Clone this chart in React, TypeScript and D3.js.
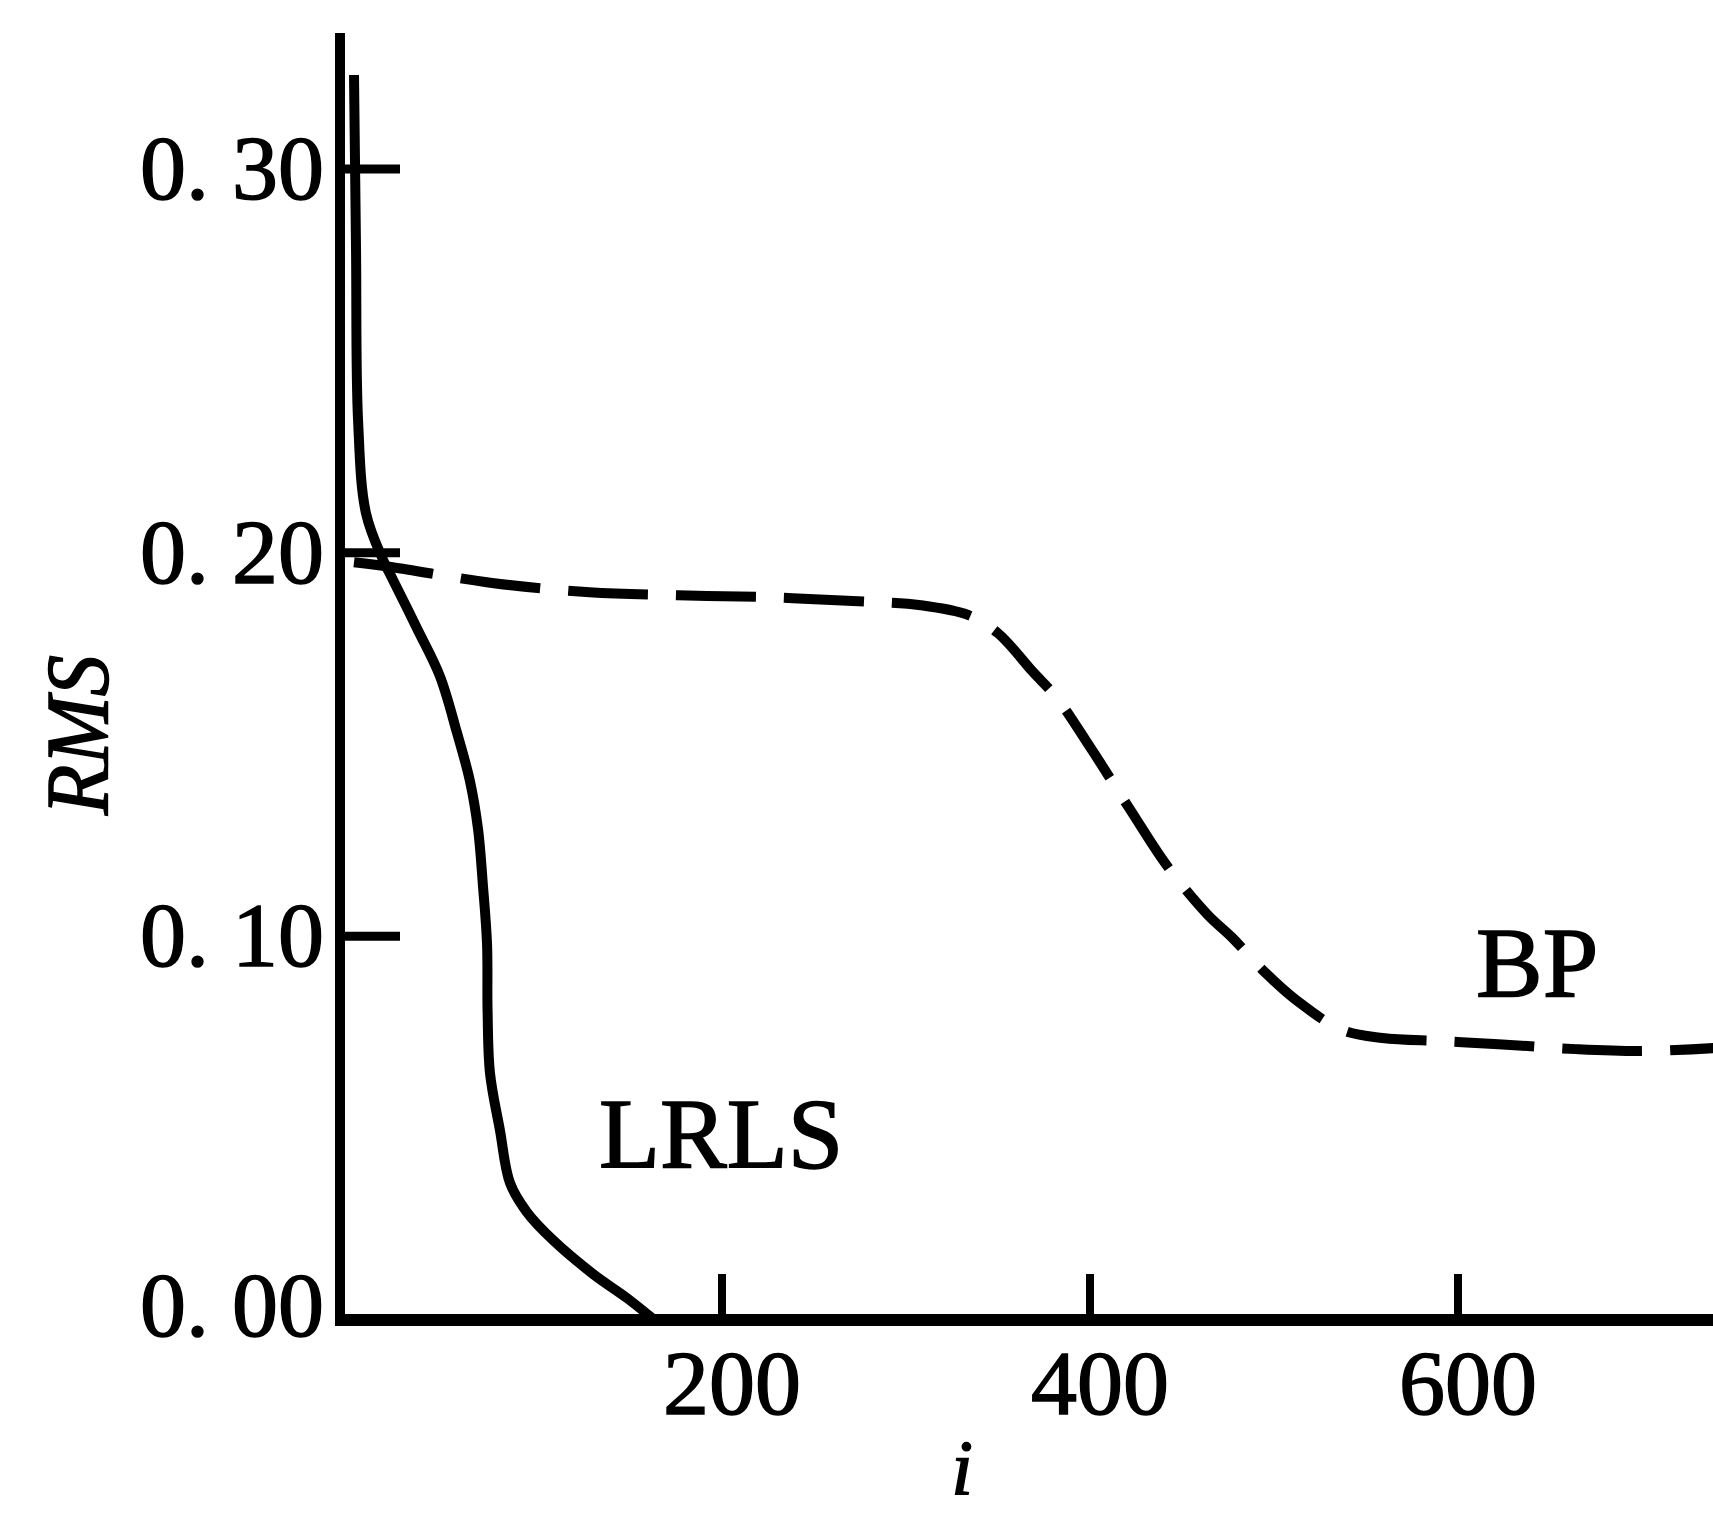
import React, { useEffect, useRef } from 'react'
import * as d3 from 'd3'

// iteration index i and RMS error
const lrlsI = [0, 1.1, 2.2, 6.5, 15.8, 21.2, 34.2, 46.7, 56, 63, 67.4, 70.1, 72.3, 72.6, 73.9, 79.3, 84.8, 94, 108.2, 129.9, 148.4, 162.5]
const lrlsRms = [0.3245, 0.279, 0.2346, 0.2103, 0.1981, 0.1929, 0.1803, 0.1678, 0.153, 0.1405, 0.128, 0.1131, 0.098, 0.0805, 0.0644, 0.0495, 0.0357, 0.0281, 0.0208, 0.012, 0.0057, 0.0003]

const bpI = [0, 21, 75, 128, 176, 224, 271, 308, 334, 350, 369, 382, 401, 422, 442, 464, 477, 496, 512, 537, 559, 591, 622, 664, 699, 740]
const bpRms = [0.1975, 0.1962, 0.1921, 0.1897, 0.1889, 0.1884, 0.1874, 0.1863, 0.1837, 0.179, 0.1689, 0.1621, 0.1486, 0.1329, 0.1183, 0.1056, 0.0998, 0.0902, 0.0834, 0.0756, 0.0735, 0.0727, 0.0719, 0.0706, 0.0701, 0.0709]

const iTicks = [200, 400, 600]
const rmsTicks = [0, 0.1, 0.2, 0.3]

const W = 1713
const H = 1516
const axisX = 340
const axisY = 1320
const font = '"Liberation Serif", "Times New Roman", serif'

const App = () => {
  const ref = useRef<SVGSVGElement>(null)

  useEffect(() => {
    const svg = d3.select(ref.current)
    svg.selectAll('*').remove()

    const x = d3.scaleLinear().domain([0, 600]).range([354, 1458])
    const y = d3.scaleLinear().domain([0, 0.3]).range([axisY, 169])

    const line = d3.line<[number, number]>()
      .x((d) => x(d[0]))
      .y((d) => y(d[1]))
      .curve(d3.curveCatmullRom.alpha(0.5))

    // axes
    svg.append('line')
      .attr('x1', axisX).attr('x2', axisX)
      .attr('y1', 33).attr('y2', axisY + 6)
      .attr('stroke', '#000').attr('stroke-width', 10)
    svg.append('line')
      .attr('x1', axisX - 5).attr('x2', W)
      .attr('y1', axisY).attr('y2', axisY)
      .attr('stroke', '#000').attr('stroke-width', 12)

    // y ticks (pointing inward)
    const yt = svg.append('g')
    yt.selectAll('line').data(rmsTicks).join('line')
      .attr('x1', axisX).attr('x2', axisX + 60)
      .attr('y1', (d) => y(d)).attr('y2', (d) => y(d))
      .attr('stroke', '#000').attr('stroke-width', 9)
    yt.selectAll('text').data(rmsTicks).join('text')
      .attr('x', axisX - 16)
      .attr('y', (d) => y(d) + (d === 0 ? 16 : 30))
      .attr('text-anchor', 'end')
      .attr('font-family', font)
      .attr('font-size', 92)
      .attr('stroke', '#000').attr('stroke-width', 1.5)
      .text((d) => d3.format('.2f')(d).replace('.', '. '))

    // x ticks
    const xt = svg.append('g')
    xt.selectAll('line').data(iTicks).join('line')
      .attr('x1', (d) => x(d)).attr('x2', (d) => x(d))
      .attr('y1', axisY).attr('y2', axisY - 46)
      .attr('stroke', '#000').attr('stroke-width', 8)
    xt.selectAll('text').data(iTicks).join('text')
      .attr('x', (d) => x(d) + 10)
      .attr('y', 1414)
      .attr('text-anchor', 'middle')
      .attr('font-family', font)
      .attr('font-size', 92)
      .attr('stroke', '#000').attr('stroke-width', 1.5)
      .text((d) => d)

    // series
    svg.append('path')
      .datum(lrlsI.map((v, k) => [v, lrlsRms[k]] as [number, number]))
      .attr('fill', 'none')
      .attr('stroke', '#000')
      .attr('stroke-width', 10)
      .attr('stroke-linejoin', 'round')
      .attr('d', line)

    svg.append('path')
      .datum(bpI.map((v, k) => [v, bpRms[k]] as [number, number]))
      .attr('fill', 'none')
      .attr('stroke', '#000')
      .attr('stroke-width', 10)
      .attr('stroke-dasharray', '80 28')
      .attr('d', line)

    // labels
    const lbl = (sel: any) => sel.attr('font-family', font).attr('stroke', '#000').attr('stroke-width', 1.5)
    svg.append('text')
      .attr('x', 599).attr('y', 1167)
      .attr('font-size', 100)
      .call(lbl)
      .text('LRLS')
    svg.append('text')
      .attr('x', 1476).attr('y', 996)
      .attr('font-size', 100)
      .call(lbl)
      .text('BP')
    svg.append('text')
      .attr('transform', 'translate(77,735) rotate(-90)')
      .attr('text-anchor', 'middle')
      .attr('dominant-baseline', 'central')
      .attr('font-size', 88)
      .attr('font-style', 'italic')
      .attr('textLength', 160)
      .attr('lengthAdjust', 'spacingAndGlyphs')
      .call(lbl)
      .text('RMS')
    svg.append('text')
      .attr('x', 962).attr('y', 1494)
      .attr('text-anchor', 'middle')
      .attr('font-size', 78)
      .attr('font-style', 'italic')
      .call(lbl)
      .text('i')
  }, [])

  return (
    <div style={{ position: 'absolute', left: 0, top: 0 }}>
      <svg ref={ref} width={W} height={H} style={{ display: 'block', background: '#fff' }}></svg>
    </div>
  )
}

export default App
